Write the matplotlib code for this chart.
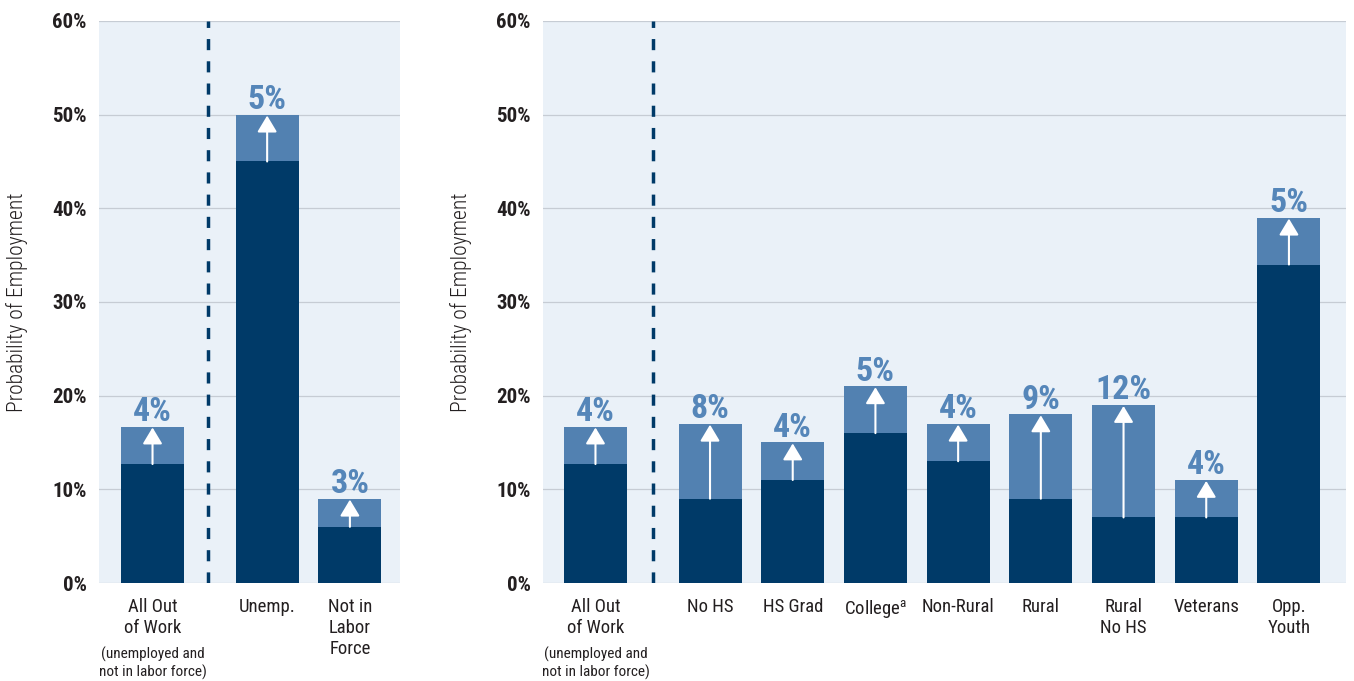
import numpy as np
import matplotlib
matplotlib.use('Agg')
import matplotlib.pyplot as plt
from matplotlib.transforms import blended_transform_factory

plt.rcParams['font.family'] = ['Roboto Condensed', 'DejaVu Sans']
plt.rcParams['mathtext.fontset'] = 'custom'
plt.rcParams['mathtext.rm'] = 'Roboto Condensed'

# left panel: all out of work, split by labor force status
left_labels = ['All Out\nof Work', 'Unemp.', 'Not in\nLabor\nForce']
left_base = [12.7, 45, 6]
left_gain = [4, 5, 3]

# right panel: subgroups
right_labels = ['All Out\nof Work', 'No HS', 'HS Grad', 'College$^{\\mathregular{a}}$', 'Non-Rural',
                'Rural', 'Rural\nNo HS', 'Veterans', 'Opp.\nYouth']
right_base = [12.7, 9, 11, 16, 13, 9, 7, 7, 34]
right_gain = [4, 8, 4, 5, 4, 9, 12, 4, 5]

yticks = [0, 10, 20, 30, 40, 50, 60]
sub_note = '(unemployed and\nnot in labor force)'

NAVY = '#003a68'
STEEL = '#5281b1'
LABEL_BLUE = '#5586b9'
BG = '#eaf1f8'
GRID = '#c6ccd4'
TEXT = '#231f20'

GAP = 1.385      # extra space after the first bar, where the dashed divider sits
WIDTH = 0.762


def draw_panel(ax, labels, base, gain, xlim, divider):
    pos = np.r_[0, GAP + np.arange(len(labels) - 1)]
    top = np.array(base) + np.array(gain)

    ax.set_facecolor(BG)
    for s in ax.spines.values():
        s.set_visible(False)
    for y in yticks:
        ax.axhline(y, color=GRID, lw=0.9, zorder=1)

    ax.bar(pos, top, WIDTH, color=STEEL, zorder=2)
    ax.bar(pos, base, WIDTH, color=NAVY, zorder=3)

    for x, b, t, g in zip(pos, base, top, gain):
        ax.annotate('', xy=(x, t - 0.1), xytext=(x, b),
                    arrowprops=dict(arrowstyle='-|>,head_length=1.0,head_width=0.6',
                                    mutation_scale=10, color='white', lw=1.5,
                                    shrinkA=0, shrinkB=0), zorder=4)
        ax.annotate(f'{g}%', (x, t), xytext=(0, 4), textcoords='offset points',
                    ha='center', va='baseline', fontsize=24.5, fontweight='bold',
                    color=LABEL_BLUE, zorder=5)

    ax.plot([divider, divider], [0, 60], color=NAVY, lw=2.5, ls=(0, (3.2, 3.2)),
            zorder=4)

    ax.set_xlim(*xlim)
    ax.set_ylim(0, 60)
    ax.set_yticks(yticks)
    ax.set_yticklabels([f'{y}%' for y in yticks], fontsize=15, fontweight='bold',
                       color=TEXT)
    ax.set_xticks(pos)
    ax.set_xticklabels(labels, fontsize=13.5, color=TEXT, linespacing=1.2, va='top')
    ax.tick_params(length=0, axis='y', pad=9)
    ax.tick_params(length=0, axis='x', pad=11)

    trans = blended_transform_factory(ax.transData, ax.transAxes)
    ax.text(pos[0], -0.113, sub_note, transform=trans, ha='center', va='top',
            fontsize=11, color=TEXT, linespacing=1.2)
    ax.set_ylabel('Probability of Employment', fontsize=15.5, color=TEXT,
                  fontweight='light')


fig = plt.figure(figsize=(13.54, 6.81), dpi=100)
ax1 = fig.add_axes([0.0731, 0.1439, 0.2223, 0.8253])
ax2 = fig.add_axes([0.4010, 0.1439, 0.5931, 0.8253])

draw_panel(ax1, left_labels, left_base, left_gain, (-0.647, 2.99), 0.671)
draw_panel(ax2, right_labels, right_base, right_gain, (-0.635, 9.075), 0.695)

ax1.yaxis.set_label_coords(-0.236, 0.5)
ax2.yaxis.set_label_coords(-0.0884, 0.5)

fig.savefig('out.png', dpi=100, facecolor='white')
